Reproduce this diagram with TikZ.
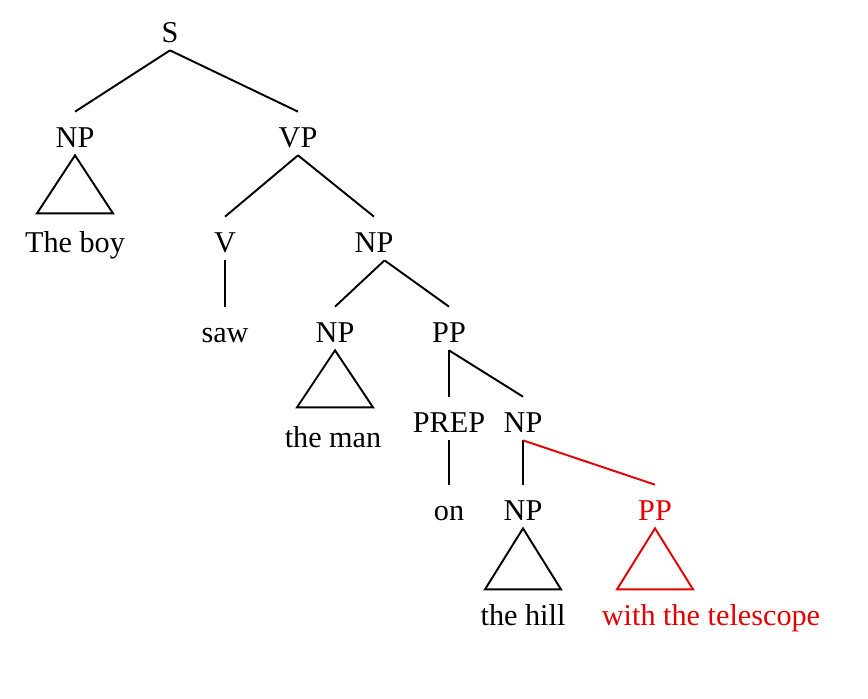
\documentclass[tikz,border=0pt]{standalone}
\usepackage{fontspec}
\setmainfont{Liberation Serif}
\definecolor{attach}{RGB}{226,0,0}
\tikzset{
  cat/.style={anchor=base, inner xsep=2pt, inner ysep=0.16cm,
    text height=0.54cm, text depth=0pt, font=\fontsize{17.2}{20}\selectfont},
  branch/.style={line width=1.1pt},
}
\begin{document}
\begin{tikzpicture}[x=0.02cm, y=-0.02cm]
    \useasboundingbox (0,0) rectangle (868,698);
    % categories
    \node[cat] (s) at (170,42) {S};
    \node[cat] (np1) at (75,147) {NP};
    \node[cat] (vp) at (298,147) {VP};
    \node[cat] (v) at (225,252) {V};
    \node[cat] (np2) at (374,252) {NP};
    \node[cat] (np3) at (335,342) {NP};
    \node[cat] (pp1) at (449,342) {PP};
    \node[cat] (prep) at (449,432) {PREP};
    \node[cat] (np4) at (523,432) {NP};
    \node[cat] (np5) at (523,520) {NP};
    \node[cat, text=attach] (pp2) at (655,520) {PP};
    % words
    \node[cat] (boy) at (75,252) {The boy};
    \node[cat] (saw) at (225,342) {saw};
    \node[cat] (man) at (333,447) {the man};
    \node[cat] (on) at (449,520) {on};
    \node[cat] (hill) at (523,625) {the hill};
    \node[cat, text=attach] (tel) at (711,625) {with the telescope};

    \draw[branch] (s.south) -- (np1.north);
    \draw[branch] (s.south) -- (vp.north);
    \draw[branch] (vp.south) -- (v.north);
    \draw[branch] (vp.south) -- (np2.north);
    \draw[branch] (v.south) -- (saw.north);
    \draw[branch] ([xshift=6]np2.south) -- (np3.north);
    \draw[branch] ([xshift=6]np2.south) -- (pp1.north);
    \draw[branch] (pp1.south) -- (prep.north);
    \draw[branch] (pp1.south) -- (np4.north);
    \draw[branch] (prep.south) -- (on.north);
    \draw[branch] (np4.south) -- (np5.north);
    \draw[branch, attach] (np4.south) -- (pp2.north);

    % roofs
    \draw[branch] (np1.south) -- ++(-38,58) -- ++(76,0) -- cycle;
    \draw[branch] (np3.south) -- ++(-38,57) -- ++(76,0) -- cycle;
    \draw[branch] (np5.south) -- ++(-38,61) -- ++(76,0) -- cycle;
    \draw[branch, attach] (pp2.south) -- ++(-38,61) -- ++(76,0) -- cycle;
\end{tikzpicture}
\end{document}
